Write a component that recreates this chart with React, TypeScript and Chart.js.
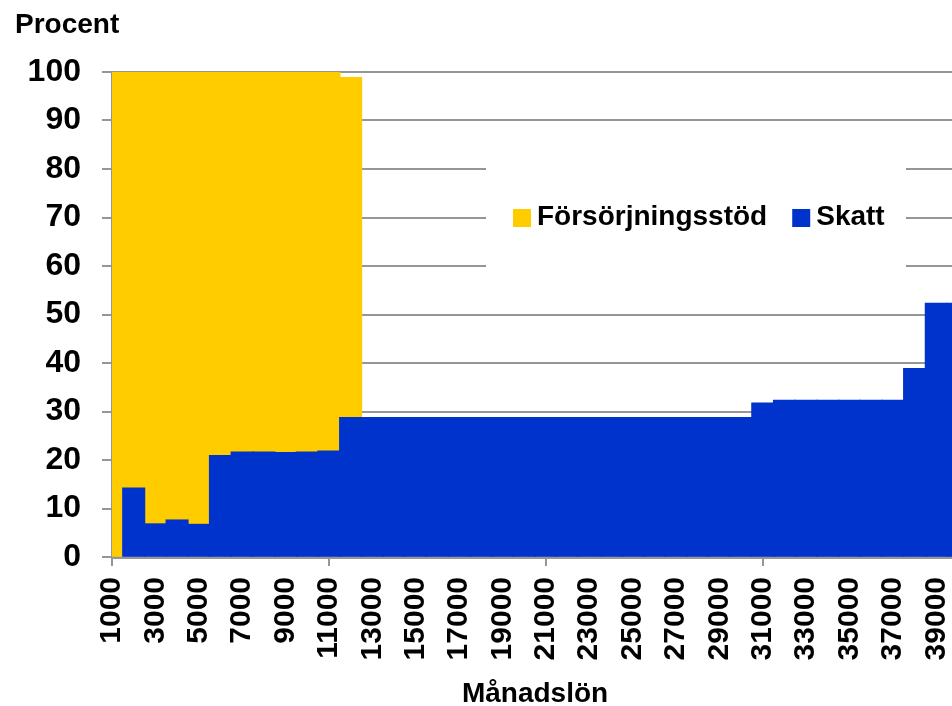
import { useEffect, useRef } from 'react';
import { Chart, registerables } from 'chart.js';

Chart.register(...registerables);

const FONT = "'Liberation Sans', Arial, sans-serif";
const GRID = '#969696';
const YELLOW = '#FFCC00';
const BLUE = '#0033CC';

const categories = [
  '1000', '2000', '3000', '4000', '5000', '6000', '7000', '8000', '9000', '10000',
  '11000', '12000', '13000', '14000', '15000', '16000', '17000', '18000', '19000', '20000',
  '21000', '22000', '23000', '24000', '25000', '26000', '27000', '28000', '29000', '30000',
  '31000', '32000', '33000', '34000', '35000', '36000', '37000', '38000', '39000', '40000',
];

const skatt = [
  null, 14.2, 6.8, 7.6, 6.7, 20.9, 21.6, 21.6, 21.5, 21.6,
  21.8, 28.7, 28.7, 28.7, 28.7, 28.7, 28.7, 28.7, 28.7, 28.7,
  28.7, 28.7, 28.7, 28.7, 28.7, 28.7, 28.7, 28.7, 28.7, 28.7,
  31.7, 32.3, 32.3, 32.3, 32.3, 32.3, 32.3, 38.8, 52.3, 52.3,
];

const forsorjningsstod = [
  100, 85.8, 93.2, 92.4, 93.3, 79.1, 78.4, 78.4, 78.5, 78.4,
  78.2, 70.1, null, null, null, null, null, null, null, null,
  null, null, null, null, null, null, null, null, null, null,
  null, null, null, null, null, null, null, null, null, null,
];

const yMin = 0;
const yMax = 100;
const yStep = 10;

const insideLegend = {
  id: 'insideLegend',
  beforeDatasetsDraw(chart: any, _args: any, opts: any) {
    const ctx = chart.ctx as CanvasRenderingContext2D;
    ctx.save();
    ctx.fillStyle = '#ffffff';
    ctx.fillRect(opts.boxLeft, opts.boxTop, opts.boxWidth, opts.boxHeight);
    ctx.font = `bold ${opts.fontSize}px ${FONT}`;
    ctx.textBaseline = 'middle';
    ctx.textAlign = 'left';
    let x = opts.x;
    const items = [...chart.data.datasets].reverse();
    for (const ds of items) {
      ctx.fillStyle = ds.backgroundColor;
      ctx.fillRect(x, opts.y - opts.swatch / 2, opts.swatch, opts.swatch);
      x += opts.swatch + opts.gap;
      ctx.fillStyle = '#000000';
      ctx.fillText(ds.label, x, opts.textY);
      x += ctx.measureText(ds.label).width + opts.itemGap;
    }
    ctx.restore();
  },
};

export default function App() {
  const ref = useRef<HTMLCanvasElement>(null);

  useEffect(() => {
    if (!ref.current) return;
    const chart = new Chart(ref.current, {
      type: 'bar',
      data: {
        labels: categories,
        datasets: [
          {
            label: 'Skatt',
            data: skatt as any,
            backgroundColor: BLUE,
            borderWidth: 0,
            inflateAmount: 0.7,
            barPercentage: 1,
            categoryPercentage: 1,
          },
          {
            label: 'Försörjningsstöd',
            data: forsorjningsstod as any,
            backgroundColor: YELLOW,
            borderWidth: 0,
            inflateAmount: 0.7,
            barPercentage: 1,
            categoryPercentage: 1,
          },
        ],
      },
      plugins: [insideLegend as any],
      options: {
        animation: false,
        responsive: false,
        events: [],
        layout: { padding: { left: 15, right: 4, top: 0, bottom: 0 } },
        font: { family: FONT } as any,
        plugins: {
          legend: { display: false },
          tooltip: { enabled: false },
          title: {
            display: true,
            text: 'Procent',
            align: 'start',
            color: '#000',
            font: { family: FONT, size: 28, weight: 'bold' },
            padding: { top: 8, bottom: 30.4 },
          },
          insideLegend: {
            boxLeft: 486,
            boxTop: 150,
            boxWidth: 420,
            boxHeight: 140,
            x: 513,
            y: 218,
            textY: 217,
            swatch: 18,
            gap: 6,
            itemGap: 25,
            fontSize: 28,
          },
        } as any,
        scales: {
          x: {
            type: 'category',
            stacked: true,
            offset: false,
            grid: {
              display: true,
              drawOnChartArea: false,
              drawTicks: true,
              tickLength: 9,
              offset: false,
              lineWidth: 2,
              color: (c: any) => (c.index % 10 === 0 ? GRID : 'rgba(0,0,0,0)'),
            },
            border: { display: true, color: GRID, width: 3 },
            ticks: {
              autoSkip: false,
              minRotation: 90,
              maxRotation: 90,
              padding: 11,
              color: '#000',
              font: { family: FONT, size: 30, weight: 'bold' },
              callback: (_v: any, i: number) => (i % 2 === 0 ? categories[i] : ''),
            },
            title: {
              display: true,
              text: 'Månadslön',
              color: '#000',
              font: { family: FONT, size: 28, weight: 'bold', lineHeight: 0.85 },
              padding: 0,
            },
            afterFit: (s: any) => {
              s.height = 149;
              s.paddingLeft = 0;
              s.paddingRight = 0;
            },
          },
          y: {
            stacked: true,
            min: yMin,
            max: yMax,
            ticks: {
              stepSize: yStep,
              padding: 21,
              color: '#000',
              font: { family: FONT, size: 32, weight: 'bold' },
            },
            grid: { color: GRID, lineWidth: 2, tickLength: 10, drawTicks: true },
            border: { display: true, color: GRID, width: 2 },
            afterFit: (s: any) => {
              s.width = 97;
            },
          },
        } as any,
      },
    });
    return () => chart.destroy();
  }, []);

  return (
    <div
      style={{
        position: 'absolute',
        left: 0,
        top: 0,
        width: 952,
        height: 706,
        overflow: 'hidden',
        background: '#ffffff',
      }}
    >
      <canvas ref={ref} width={962} height={706} style={{ display: 'block' }} />
    </div>
  );
}
